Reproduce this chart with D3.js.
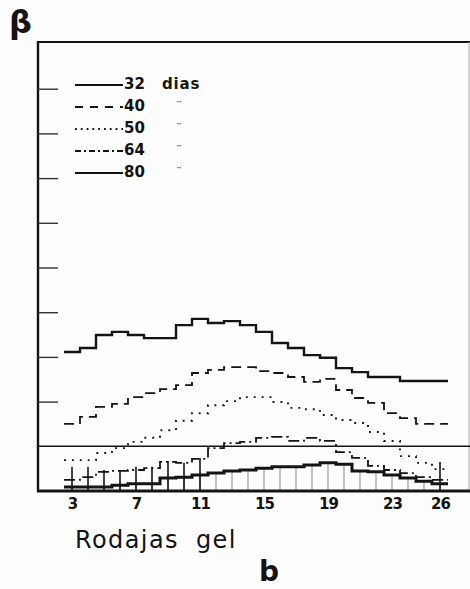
<!DOCTYPE html>
<html><head><meta charset="utf-8">
<script src="https://cdn.jsdelivr.net/npm/d3@7"></script>
<style>html,body{margin:0;padding:0;background:#fdfdfd}</style>
</head><body><svg id="c" width="470" height="589"></svg>
<script>
// ---- data ----
const slices = [3,4,5,6,7,8,9,10,11,12,13,14,15,16,17,18,19,20,21,22,23,24,25,26];
const xTickLabels = [3,7,11,15,19,23,26];
const yTickValues = [2,3,4,5,6,7,8,9];
const seriesNames = ["32 dias","40","50","64","80"];
const d32 = [3.11,3.20,3.49,3.56,3.49,3.42,3.42,3.71,3.85,3.76,3.80,3.71,3.56,3.31,3.20,3.04,2.98,2.75,2.66,2.55,2.55,2.46,2.46,2.46];
const d40 = [1.50,1.66,1.88,1.95,2.10,2.19,2.28,2.37,2.64,2.71,2.77,2.77,2.68,2.64,2.55,2.44,2.51,2.26,2.08,1.97,1.74,1.63,1.50,1.50];
const d50 = [0.69,0.69,0.85,0.96,1.10,1.19,1.36,1.57,1.74,1.92,2.01,2.10,2.10,1.99,1.86,1.83,1.70,1.59,1.52,1.32,1.12,0.78,0.63,0.49];
const d64 = [0.25,0.31,0.43,0.45,0.47,0.51,0.65,0.63,0.72,0.96,1.07,1.10,1.19,1.21,1.12,1.19,1.12,0.87,0.74,0.56,0.47,0.40,0.31,0.25];
const d80 = [0.09,0.09,0.09,0.13,0.16,0.16,0.29,0.31,0.36,0.40,0.45,0.47,0.51,0.54,0.54,0.58,0.63,0.60,0.45,0.43,0.36,0.29,0.22,0.16];
const errSlices = [3,4,5,6,7,8,9,10,11,26];
const errTop = [0.54,0.54,0.47,0.47,0.54,0.54,0.67,0.63,0.74,0.65];
const refLine = 1;

// ---- drawing ----
const ink = "#141414";
const svg = d3.select("#c");
const x = d3.scaleLinear().domain([3,26]).range([72,440]);
const y = d3.scaleLinear().domain([0,10]).range([491,44]);

const styles = [
  {w:2.4, dash:null},
  {w:1.8, dash:"10,6"},
  {w:1.9, dash:"1.9,6"},
  {w:1.8, dash:"11,4,2,4"},
  {w:3.0, dash:null}
];
const series = [d32,d40,d50,d64,d80];

// comb lines (thin verticals from the 80-day line to the baseline)
svg.append("g").selectAll("line").data(slices).join("line")
  .attr("x1", s=>x(s)).attr("x2", s=>x(s))
  .attr("y1", (s,i)=>y(d80[i])).attr("y2", y(0))
  .attr("stroke","#888").attr("stroke-width",1);

// error bars
svg.append("g").selectAll("line").data(errSlices).join("line")
  .attr("x1", s=>x(s)).attr("x2", s=>x(s))
  .attr("y1", (s,i)=>y(errTop[i])).attr("y2", y(0))
  .attr("stroke",ink).attr("stroke-width",1.6);

// frame
svg.append("line").attr("x1",38).attr("x2",38).attr("y1",41).attr("y2",492).attr("stroke",ink).attr("stroke-width",2.4);
svg.append("line").attr("x1",37).attr("x2",470).attr("y1",42).attr("y2",42).attr("stroke",ink).attr("stroke-width",2.2);
svg.append("line").attr("x1",469).attr("x2",469).attr("y1",42).attr("y2",491).attr("stroke","#aaa").attr("stroke-width",1);
svg.append("line").attr("x1",38).attr("x2",470).attr("y1",y(refLine)).attr("y2",y(refLine)).attr("stroke",ink).attr("stroke-width",1.5);
svg.append("line").attr("x1",37).attr("x2",470).attr("y1",y(0)).attr("y2",y(0)).attr("stroke",ink).attr("stroke-width",3);

// y ticks (inward, no labels)
const yAxis = svg.append("g").attr("transform","translate(38,0)")
  .call(d3.axisLeft(y).tickValues(yTickValues).tickSize(-20).tickFormat(""));
yAxis.select(".domain").remove();
yAxis.selectAll("line").attr("stroke","#333").attr("stroke-width",1.4);

// x axis labels
const xAxis = svg.append("g").attr("transform",`translate(0,${y(0)})`)
  .call(d3.axisBottom(x).tickValues(xTickLabels).tickSize(0).tickPadding(7));
xAxis.select(".domain").remove();
xAxis.selectAll("text").attr("font-family","DejaVu Sans").attr("font-weight","bold")
  .attr("font-size",15).attr("fill",ink).attr("letter-spacing",-1);

// step lines
const line = d3.line().curve(d3.curveStepAfter);
function stepPts(vals){
  const pts = slices.map((s,i)=>[x(s-0.5), y(vals[i])]);
  pts.push([x(slices[slices.length-1]+0.5), y(vals[vals.length-1])]);
  return pts;
}
series.forEach((vals,k)=>{
  svg.append("path").attr("d", line(stepPts(vals)))
    .attr("fill","none").attr("stroke",ink)
    .attr("stroke-width",styles[k].w)
    .attr("stroke-dasharray",styles[k].dash);
});

// legend
const lg = svg.append("g");
seriesNames.forEach((name,k)=>{
  const by = 89 + k*22;
  lg.append("line").attr("x1",75).attr("x2",123).attr("y1",by-4).attr("y2",by-4)
    .attr("stroke",ink).attr("stroke-width",k===0||k===4?2.2:1.8)
    .attr("stroke-dasharray", k===1?"8,7":k===2?"1.8,4":k===3?"6,3,2,3":null);
  lg.append("text").attr("x",124).attr("y",by).text(name.split(" ")[0])
    .attr("font-family","DejaVu Sans").attr("font-weight","bold").attr("font-size",15).attr("fill",ink);
  if(k===0){
    lg.append("text").attr("x",162).attr("y",by).text("dias")
      .attr("font-family","DejaVu Sans").attr("font-size",15).attr("font-weight","bold")
      .attr("letter-spacing",0.8).attr("fill",ink);
  } else {
    lg.append("text").attr("x",176).attr("y",by-1).text("\u00a8")
      .attr("font-family","DejaVu Sans").attr("font-size",12).attr("fill","#555");
  }
});

// titles
svg.append("text").attr("x",9).attr("y",33).text("β")
  .attr("font-family","DejaVu Sans").attr("font-weight","bold").attr("font-size",32).attr("fill",ink);
svg.append("text").attr("x",75).attr("y",548).text("Rodajas gel")
  .attr("font-family","DejaVu Sans").attr("font-size",24).attr("letter-spacing",1.4)
  .attr("word-spacing",8).attr("fill",ink);
svg.append("text").attr("x",259).attr("y",581).text("b")
  .attr("font-family","DejaVu Sans").attr("font-weight","bold").attr("font-size",28).attr("fill",ink);
</script></body></html>
